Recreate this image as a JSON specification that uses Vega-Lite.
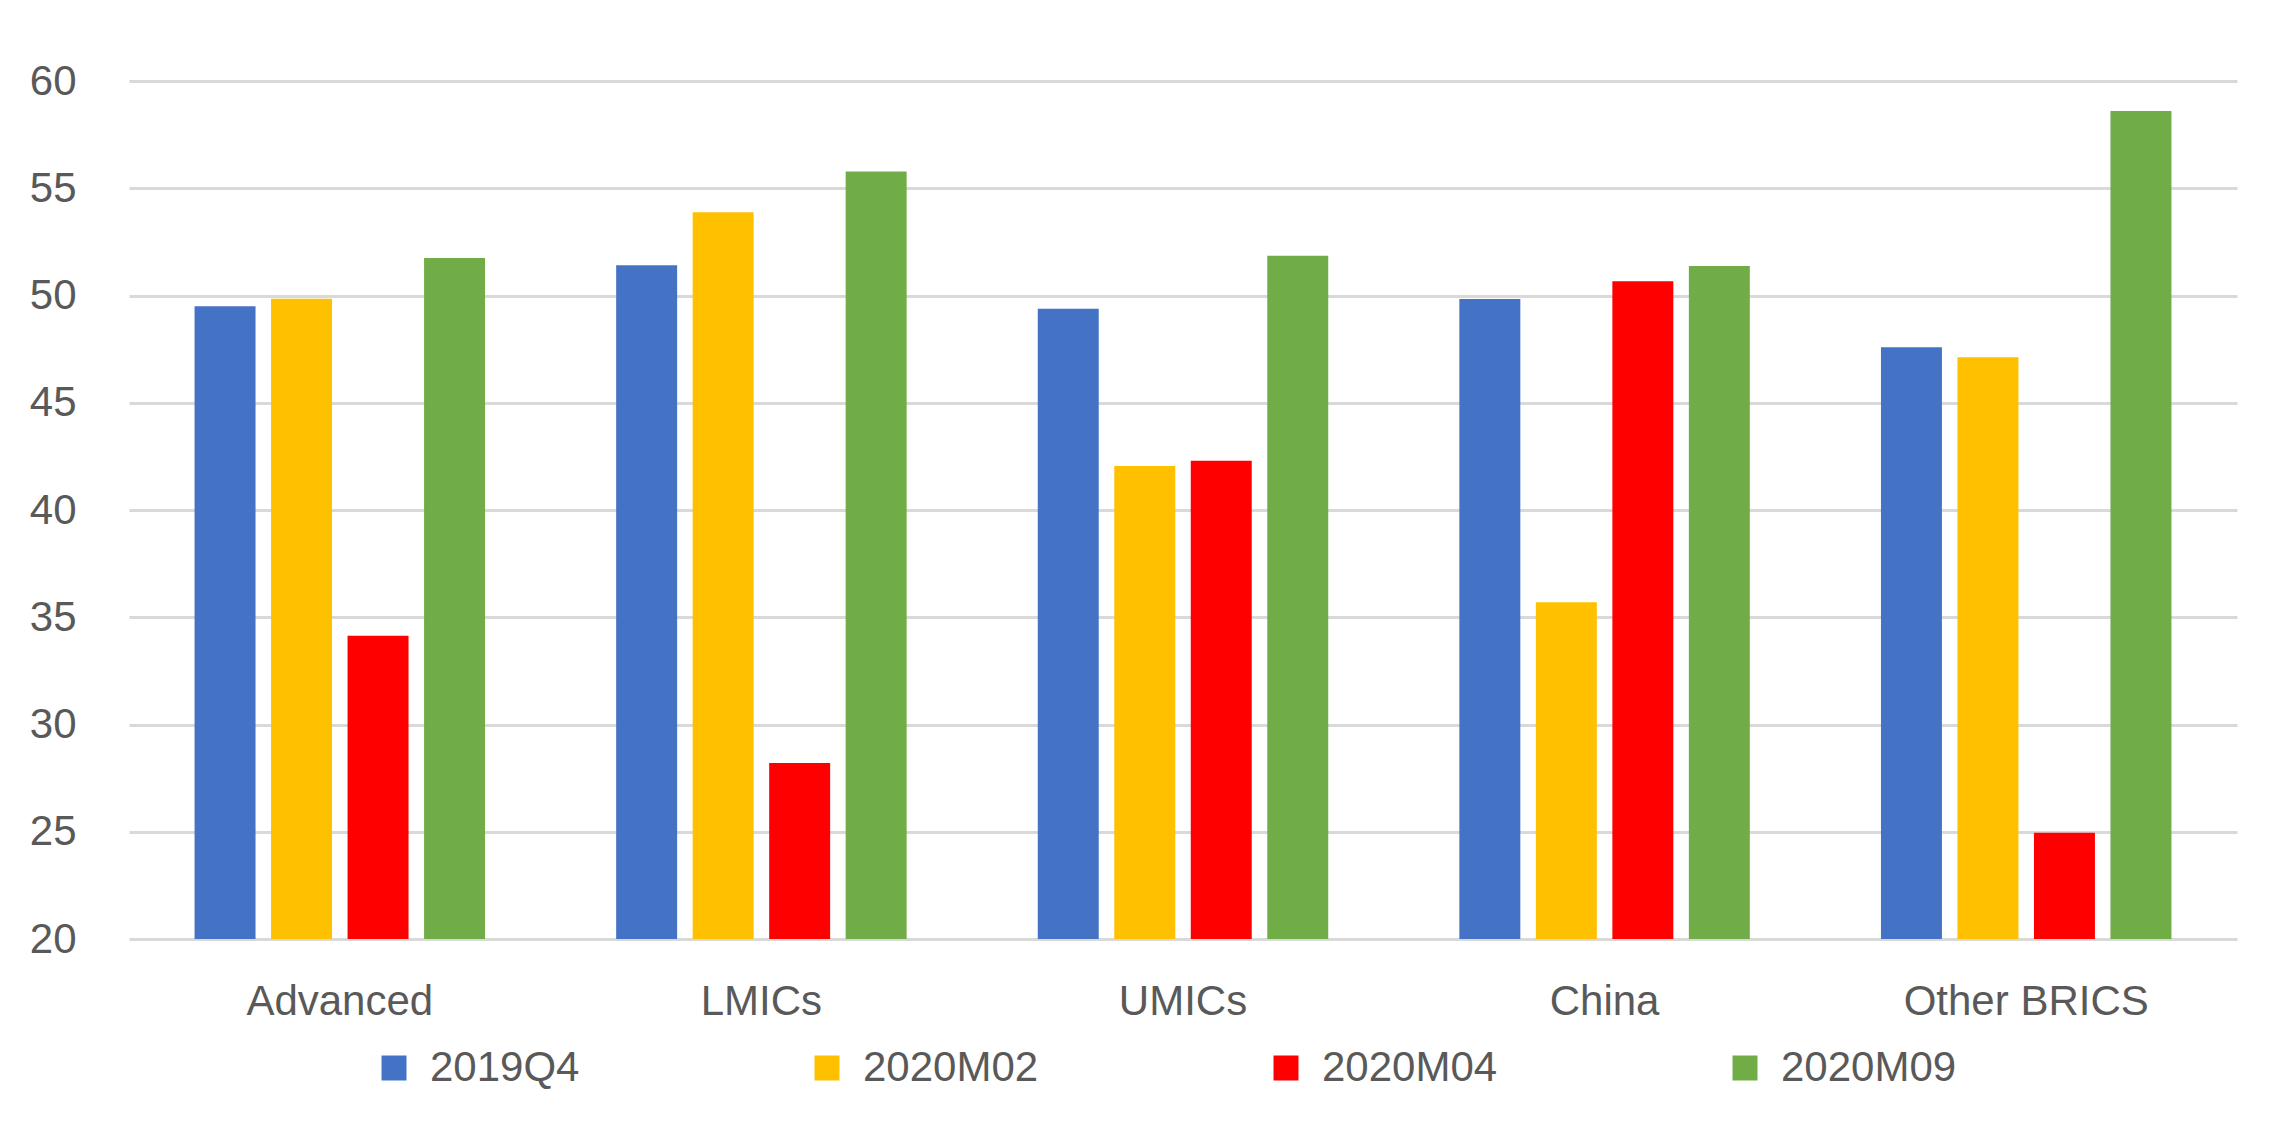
{
  "$schema": "https://vega.github.io/schema/vega-lite/v6.json",
  "width": 2108,
  "height": 858,
  "autosize": {"type": "none"},
  "padding": {"left": 129, "top": 81, "right": 42, "bottom": 199},
  "background": "white",
  "config": {"view": {"stroke": null}, "font": "Liberation Sans"},
  "data": {
    "values": [
      {"region": "Advanced", "period": "2019Q4", "value": 49.5},
      {"region": "Advanced", "period": "2020M02", "value": 49.85},
      {"region": "Advanced", "period": "2020M04", "value": 34.14},
      {"region": "Advanced", "period": "2020M09", "value": 51.75},
      {"region": "LMICs", "period": "2019Q4", "value": 51.41},
      {"region": "LMICs", "period": "2020M02", "value": 53.88},
      {"region": "LMICs", "period": "2020M04", "value": 28.21},
      {"region": "LMICs", "period": "2020M09", "value": 55.78},
      {"region": "UMICs", "period": "2019Q4", "value": 49.38},
      {"region": "UMICs", "period": "2020M02", "value": 42.05},
      {"region": "UMICs", "period": "2020M04", "value": 42.3},
      {"region": "UMICs", "period": "2020M09", "value": 51.85},
      {"region": "China", "period": "2019Q4", "value": 49.84},
      {"region": "China", "period": "2020M02", "value": 35.7},
      {"region": "China", "period": "2020M04", "value": 50.67},
      {"region": "China", "period": "2020M09", "value": 51.37},
      {"region": "Other BRICS", "period": "2019Q4", "value": 47.59},
      {"region": "Other BRICS", "period": "2020M02", "value": 47.12},
      {"region": "Other BRICS", "period": "2020M04", "value": 24.95},
      {"region": "Other BRICS", "period": "2020M09", "value": 58.6}
    ]
  },
  "mark": {"type": "bar", "clip": true},
  "encoding": {
    "x": {
      "field": "region",
      "type": "nominal",
      "sort": ["Advanced", "LMICs", "UMICs", "China", "Other BRICS"],
      "scale": {"paddingInner": 0.311, "paddingOuter": 0.1555},
      "axis": {
        "title": null,
        "labelAngle": 0,
        "labelFontSize": 42,
        "labelColor": "#595959",
        "labelPadding": 42,
        "labelLimit": 0,
        "ticks": false,
        "tickSize": 0,
        "domain": false
      }
    },
    "xOffset": {
      "field": "period",
      "type": "nominal",
      "sort": ["2019Q4", "2020M02", "2020M04", "2020M09"],
      "scale": {"paddingInner": 0.203, "paddingOuter": 0}
    },
    "y": {
      "field": "value",
      "type": "quantitative",
      "scale": {"domain": [20, 60], "zero": false, "nice": false},
      "axis": {
        "title": null,
        "values": [20, 25, 30, 35, 40, 45, 50, 55, 60],
        "grid": true,
        "gridColor": "#d9d9d9",
        "gridWidth": 3,
        "domain": false,
        "ticks": false,
        "tickSize": 0,
        "labelPadding": 53,
        "labelFontSize": 42,
        "labelColor": "#595959"
      }
    },
    "y2": {"datum": 20},
    "color": {
      "field": "period",
      "type": "nominal",
      "scale": {
        "domain": ["2019Q4", "2020M02", "2020M04", "2020M09"],
        "range": ["#4472C4", "#FFC000", "#FF0000", "#70AD47"]
      },
      "legend": {
        "title": null,
        "orient": "none",
        "legendX": 244,
        "legendY": 966,
        "direction": "horizontal",
        "symbolType": "square",
        "symbolSize": 625,
        "symbolStrokeWidth": 0,
        "symbolOpacity": 1,
        "labelFontSize": 42,
        "labelColor": "#595959",
        "labelOffset": 15,
        "labelLimit": 0,
        "columnPadding": 226
      }
    }
  }
}
